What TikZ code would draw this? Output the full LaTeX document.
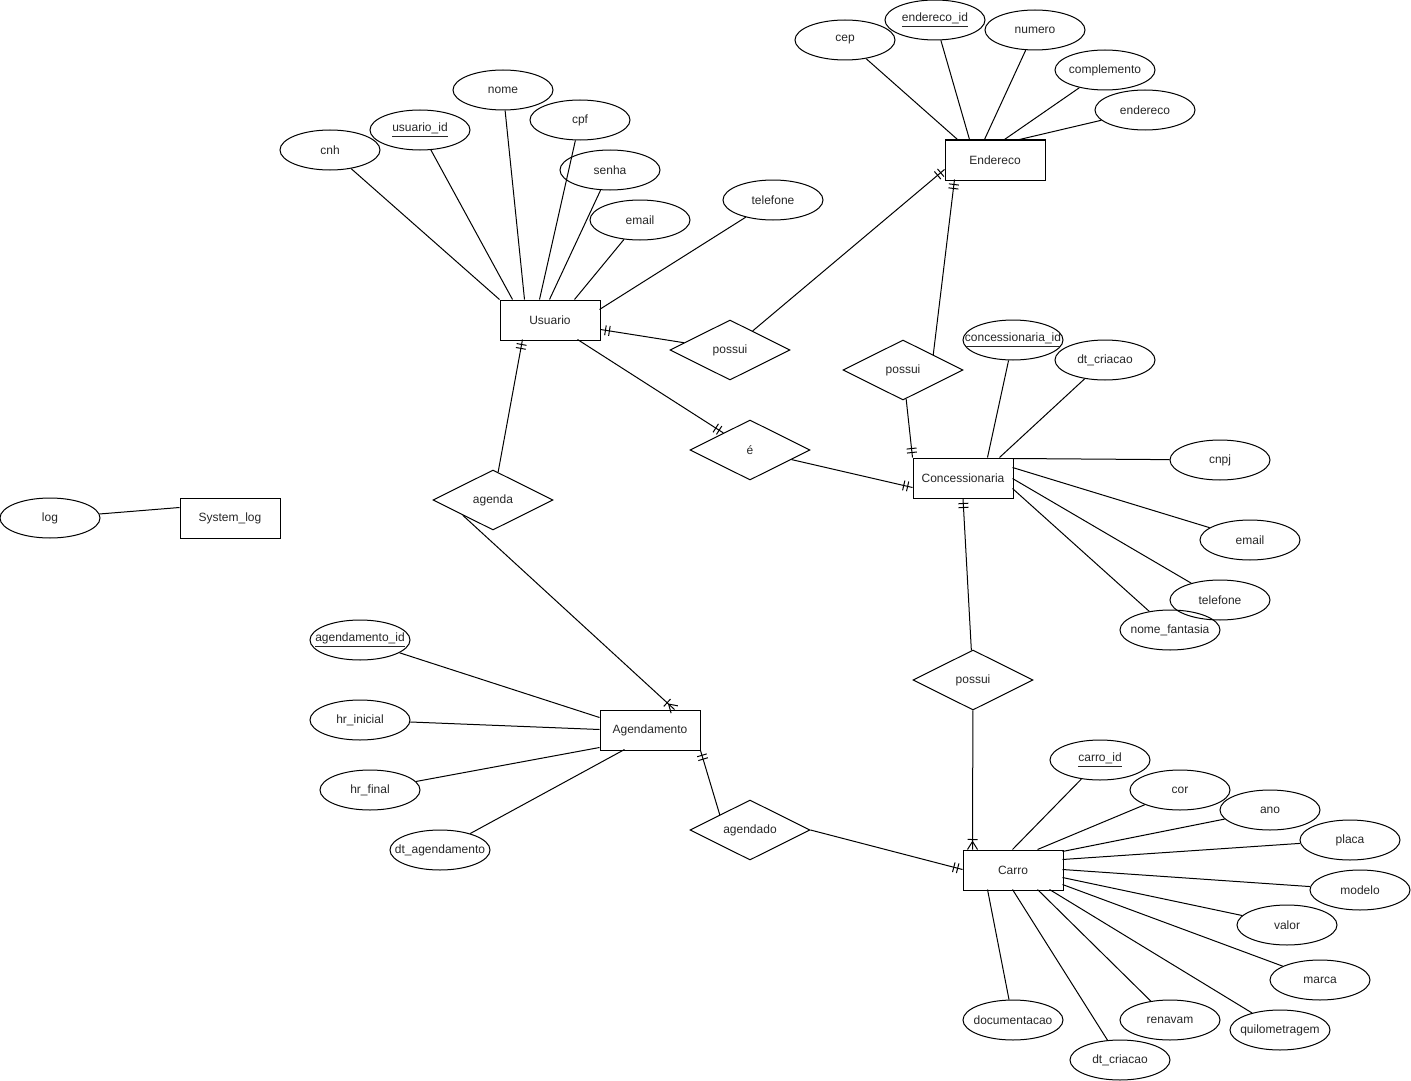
\documentclass[tikz,border=0pt]{standalone}
\usepackage{fontspec}
\setmainfont{Liberation Sans}
\usetikzlibrary{shapes.geometric,decorations.markings}
\newcommand{\zbox}[1]{\makebox[0pt]{#1}}
\tikzset{
  ent/.style={draw, rectangle, minimum width=75pt, minimum height=30pt, inner sep=0pt},
  rel/.style={draw, diamond, aspect=2, minimum width=90pt, minimum height=45pt, inner sep=0pt},
  att/.style={draw, ellipse, minimum width=75pt, minimum height=30pt, inner sep=0pt},
  mandone/.style={postaction={decorate,decoration={markings,mark=at position 1 with {\draw (-3.75pt,-3.75pt)--(-3.75pt,3.75pt) (-6.75pt,-3.75pt)--(-6.75pt,3.75pt);}}}},
  onemany/.style={postaction={decorate,decoration={markings,mark=at position 1 with {\draw (-6pt,0pt)--(0pt,3.75pt) (-6pt,0pt)--(0pt,-3.75pt) (-7.5pt,-3.75pt)--(-7.5pt,3.75pt);}}}},
}
\begin{document}
\begin{tikzpicture}[x=0.75pt,y=-0.75pt,line width=0.75pt,
  every node/.style={font=\fontsize{9}{11}\selectfont, text=black!85}]
\useasboundingbox (0,0) rectangle (1411,1081);
% entities
\node[ent] (usuario) at (550,320) {Usuario};
\node[ent] (endereco) at (995,160) {Endereco};
\node[ent] (conc) at (963,478) {Concessionaria};
\node[ent] (agendamento) at (650,730) {Agendamento};
\node[ent] (carro) at (1013,870) {Carro};
\node[ent] (syslog) at (230,518) {System\_log};
% relationships
\node[rel] (possuiA) at (730,350) {possui};
\node[rel] (possuiB) at (903,370) {possui};
\node[rel] (e) at (750,450) {é};
\node[rel] (agenda) at (493,500) {agenda};
\node[rel] (possuiC) at (973,680) {possui};
\node[rel] (agendado) at (750,830) {agendado};
% usuario attributes
\node[att] (cnh) at (330,150) {cnh};
\node[att] (usuarioid) at (420,130) {\underline{usuario\_id}};
\node[att] (nome) at (503,90) {nome};
\node[att] (cpf) at (580,120) {cpf};
\node[att] (senha) at (610,170) {senha};
\node[att] (uemail) at (640,220) {email};
\node[att] (utelefone) at (773,200) {telefone};
% endereco attributes
\node[att] (cep) at (845,40) {cep};
\node[att] (enderecoid) at (935,20) {\underline{endereco\_id}};
\node[att] (numero) at (1035,30) {numero};
\node[att] (complemento) at (1105,70) {\zbox{complemento}};
\node[att] (enderecoatt) at (1145,110) {endereco};
% concessionaria attributes
\node[att] (concid) at (1013,340) {\zbox{\underline{concessionaria\_id}}};
\node[att] (cdtcriacao) at (1105,360) {dt\_criacao};
\node[att] (cnpj) at (1220,460) {cnpj};
\node[att] (cemail) at (1250,540) {email};
\node[att] (ctelefone) at (1220,600) {telefone};
\node[att] (nomefantasia) at (1170,630) {\zbox{nome\_fantasia}};
% log
\node[att] (log) at (50,518) {log};
% agendamento attributes
\node[att] (agid) at (360,640) {\zbox{\underline{agendamento\_id}}};
\node[att] (hrinicial) at (360,720) {hr\_inicial};
\node[att] (hrfinal) at (370,790) {hr\_final};
\node[att] (dtagend) at (440,850) {\zbox{dt\_agendamento}};
% carro attributes
\node[att] (carroid) at (1100,760) {\underline{carro\_id}};
\node[att] (cor) at (1180,790) {cor};
\node[att] (ano) at (1270,810) {ano};
\node[att] (placa) at (1350,840) {placa};
\node[att] (modelo) at (1360,890) {modelo};
\node[att] (valor) at (1287,925) {valor};
\node[att] (marca) at (1320,980) {marca};
\node[att] (km) at (1280,1030) {\zbox{quilometragem}};
\node[att] (renavam) at (1170,1020) {renavam};
\node[att] (kdtcriacao) at (1120,1060) {dt\_criacao};
\node[att] (doc) at (1013,1020) {\zbox{documentacao}};
% attribute lines
\draw (cnh) -- ([shift={(0,0)}]usuario.north west);
\draw (usuarioid) -- ([shift={(13,0)}]usuario.north west);
\draw (nome) -- ([shift={(25,0)}]usuario.north west);
\draw (cpf) -- ([shift={(40,0)}]usuario.north west);
\draw (senha) -- ([shift={(50,0)}]usuario.north west);
\draw (uemail) -- ([shift={(75,0)}]usuario.north west);
\draw (utelefone) -- ([shift={(100,10)}]usuario.north west);
\draw (cep) -- ([shift={(13,0)}]endereco.north west);
\draw (enderecoid) -- ([shift={(25,0)}]endereco.north west);
\draw (numero) -- ([shift={(40,0)}]endereco.north west);
\draw (complemento) -- ([shift={(60,0)}]endereco.north west);
\draw (enderecoatt) -- ([shift={(75,0)}]endereco.north west);
\draw (concid) -- ([shift={(75,0)}]conc.north west);
\draw (cdtcriacao) -- ([shift={(87,0)}]conc.north west);
\draw (cnpj) -- ([shift={(100,1)}]conc.north west);
\draw (cemail) -- ([shift={(100,10)}]conc.north west);
\draw (ctelefone) -- ([shift={(100,21)}]conc.north west);
\draw (nomefantasia) -- ([shift={(100,31)}]conc.north west);
\draw (log) -- ([shift={(0,10)}]syslog.north west);
\draw (agid) -- ([shift={(0,8)}]agendamento.north west);
\draw (hrinicial) -- ([shift={(0,20)}]agendamento.north west);
\draw (hrfinal) -- ([shift={(0,38)}]agendamento.north west);
\draw (dtagend) -- ([shift={(25,40)}]agendamento.north west);
\draw (carroid) -- ([shift={(50,0)}]carro.north west);
\draw (cor) -- ([shift={(75,0)}]carro.north west);
\draw (ano) -- ([shift={(100,2)}]carro.north west);
\draw (placa) -- ([shift={(100,10)}]carro.north west);
\draw (modelo) -- ([shift={(100,20)}]carro.north west);
\draw (valor) -- ([shift={(100,28)}]carro.north west);
\draw (marca) -- ([shift={(100,35)}]carro.north west);
\draw (km) -- ([shift={(87,40)}]carro.north west);
\draw (renavam) -- ([shift={(75,40)}]carro.north west);
\draw (kdtcriacao) -- ([shift={(50,40)}]carro.north west);
\draw (doc) -- ([shift={(25,40)}]carro.north west);
% relationship lines
\draw[mandone] (possuiA) -- ([shift={(0,30)}]usuario.north east);
\draw[mandone] (possuiA) -- ([shift={(0,30)}]endereco.north west);
\draw[mandone] (possuiB.north east) -- ([shift={(10,40)}]endereco.north west);
\draw[mandone] (possuiB) -- (conc.north west);
\draw[mandone] ([shift={(78,40)}]usuario.north west) -- (e);
\draw[mandone] (e) -- ([shift={(0,30)}]conc.north west);
\draw[mandone] (agenda) -- ([shift={(23,40)}]usuario.north west);
\draw[onemany] (agenda.south west) -- ([shift={(75,0)}]agendamento.north west);
\draw[mandone] (agendado.north west) -- (agendamento.south east);
\draw[mandone] (agendado.east) -- ([shift={(0,20)}]carro.north west);
\draw[mandone] (possuiC) -- (conc.south);
\draw[onemany] (possuiC) -- ([shift={(10,0)}]carro.north west);
\end{tikzpicture}
\end{document}
